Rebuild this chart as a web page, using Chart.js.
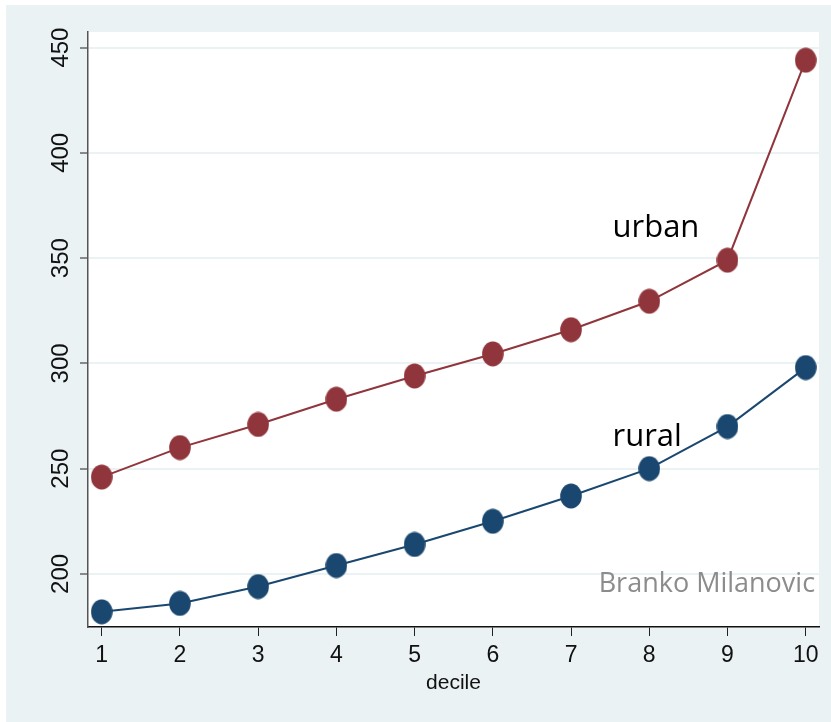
<!DOCTYPE html>
<html>
<head>
<meta charset="utf-8">
<script src="https://cdn.jsdelivr.net/npm/chart.js@4/dist/chart.umd.min.js"></script>
<style>
  html, body { margin: 0; padding: 0; background: #fff; }
  #wrap { width: 831px; height: 722px; }
</style>
</head>
<body>
<div id="wrap"><canvas id="c" width="831" height="722"></canvas></div>
<script>
// data
const deciles = [1, 2, 3, 4, 5, 6, 7, 8, 9, 10]
const urban = [246, 260, 271, 283, 294, 304.5, 316, 329.5, 349, 444]
const rural = [182, 186, 194, 204, 214, 225, 237, 250, 270, 298]
const yTicks = [200, 250, 300, 350, 400, 450]
// text labels placed in data coordinates
const notes = [
  { text: 'urban', x: 7.53, y: 360, align: 'left', color: '#000', size: 31 },
  { text: 'rural', x: 7.53, y: 261, align: 'left', color: '#000', size: 31 },
  { text: 'Branko Milanovic', x: 10.12, y: 191.5, align: 'right', color: '#8c8c8c', size: 27 }
]

const bg = 'rgb(234,242,243)'
const cranberry = 'rgb(144,53,59)'
const navy = 'rgb(26,71,111)'

// stata style markers are slightly taller than wide
function ellipse (color) {
  const cv = document.createElement('canvas')
  cv.width = 22
  cv.height = 26
  const g = cv.getContext('2d')
  g.fillStyle = color
  g.beginPath()
  g.ellipse(11, 13, 10.8, 12.4, 0, 0, Math.PI * 2)
  g.fill()
  return cv
}

const toXY = (arr) => arr.map((v, i) => ({ x: deciles[i], y: v }))

const decor = {
  id: 'decor',
  beforeDraw (chart) {
    const { ctx, chartArea: a } = chart
    ctx.save()
    ctx.fillStyle = '#fff'
    ctx.fillRect(0, 0, chart.width, chart.height)
    ctx.fillStyle = bg
    ctx.fillRect(6, 5, chart.width - 6, chart.height - 5)
    ctx.fillStyle = '#fff'
    ctx.fillRect(a.left, a.top, a.right - a.left, a.bottom - a.top)
    ctx.restore()
  },
  afterDraw (chart) {
    const { ctx, scales } = chart
    ctx.save()
    // y tick labels, rotated
    ctx.fillStyle = '#111'
    ctx.font = '24px "Liberation Sans", Arial, sans-serif'
    ctx.textAlign = 'center'
    ctx.textBaseline = 'alphabetic'
    yTicks.forEach((t) => {
      const py = scales.y.getPixelForValue(t)
      ctx.save()
      ctx.translate(68, py)
      ctx.rotate(-Math.PI / 2)
      ctx.fillText(String(t), 0, 0)
      ctx.restore()
    })
    // x title
    ctx.font = '21px "Liberation Sans", Arial, sans-serif'
    ctx.fillText('decile', (chart.chartArea.left + chart.chartArea.right) / 2, 689)
    // notes
    notes.forEach((n) => {
      ctx.font = n.size + 'px "Open Sans", sans-serif'
      ctx.fillStyle = n.color
      ctx.textAlign = n.align
      ctx.fillText(n.text, scales.x.getPixelForValue(n.x), scales.y.getPixelForValue(n.y))
    })
    ctx.restore()
  }
}

new Chart(document.getElementById('c'), {
  type: 'line',
  data: {
    datasets: [
      {
        label: 'urban',
        data: toXY(urban),
        borderColor: cranberry,
        backgroundColor: cranberry,
        borderWidth: 2,
        pointStyle: ellipse(cranberry),
        pointRadius: 12,
        pointBorderWidth: 0,
        tension: 0
      },
      {
        label: 'rural',
        data: toXY(rural),
        borderColor: navy,
        backgroundColor: navy,
        borderWidth: 2,
        pointStyle: ellipse(navy),
        pointRadius: 12,
        pointBorderWidth: 0,
        tension: 0
      }
    ]
  },
  options: {
    responsive: false,
    animation: false,
    layout: { padding: { left: 0, top: 32, right: 12, bottom: 0 } },
    plugins: {
      legend: { display: false },
      tooltip: { enabled: false }
    },
    scales: {
      x: {
        type: 'linear',
        min: 0.825,
        max: 10.17,
        afterBuildTicks (scale) {
          scale.ticks = deciles.map((v) => ({ value: v }))
        },
        afterFit (scale) { scale.height = 95 },
        grid: { drawOnChartArea: false, tickColor: '#222', tickLength: 9, tickWidth: 1 },
        border: { color: '#111', width: 1.5 },
        ticks: {
          color: '#111',
          font: { family: '"Liberation Sans", Arial, sans-serif', size: 23 },
          padding: 6,
          maxRotation: 0,
          autoSkip: false
        }
      },
      y: {
        type: 'linear',
        min: 174.8,
        max: 457.4,
        afterBuildTicks (scale) {
          scale.ticks = yTicks.map((v) => ({ value: v }))
        },
        afterFit (scale) { scale.width = 88 },
        grid: { color: bg, lineWidth: 2, tickColor: '#222', tickLength: 8, tickWidth: 1 },
        border: { color: '#555', width: 1.5 },
        ticks: { display: false }
      }
    }
  },
  plugins: [decor]
})
</script>
</body>
</html>
